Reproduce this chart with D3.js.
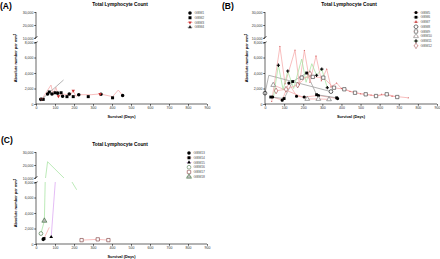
<!DOCTYPE html>
<meta charset="utf-8">
<script src="https://cdn.jsdelivr.net/npm/d3@7"></script>
<style>
body { margin: 0; background: #fff; }
svg { font-family: Arial, "Liberation Sans", sans-serif; }
</style>
<div id="chart"></div>
<script>
// tick values
const xTicks = [0, 100, 200, 300, 400, 500, 600, 700, 800, 900];
const lowTicks = [0, 2000, 4000, 6000, 8000];
const highTicks = [10000, 20000, 30000];

// panel A  [day, count]
const gbm1 = [[25,600],[61,1300],[84,1300],[114,1400],[140,1000],[175,1300],[225,1200],[342,1250],[456,1100]];
const gbm2 = [[38,600],[70,1550],[100,1450],[132,1450],[163,950],[196,950],[275,950],[403,800]];
const gbm3 = [[30,600],[79,2450],[90,1200],[105,2150],[118,1000],[140,1300],[163,1200],[180,1100],[196,1700],[210,1000],[230,1200],[290,1200],[337,1300],[403,950],[433,1800],[456,1100]];
const gbm4 = [[30,600],[145,3100]];

// panel B
const gbm5 = [[40,900],[90,500],[125,2700],[165,1000],[205,900],[280,1100],[380,700]];
const gbm6 = [[30,900],[100,700],[145,2900],[218,4000],[270,1200],[375,800]];
const gbm7 = [[35,300],[78,7400],[105,2600],[157,6950],[180,2500],[206,6900],[235,2800],[267,6200],[295,3000],[323,4500],[345,2200],[375,2700],[400,2000],[420,1900],[445,1600],[471,1500],[500,1300],[527,1250],[555,1150],[581,1000],[610,1250],[637,1200],[665,1000],[692,950],[750,800]];
const gbm8Line = [[0,1400],[20,3700],[345,1600]];
const gbm8 = [[0,1400],[345,1600]];
const gbm9 = [[192,3400],[250,3500],[305,3400],[361,2100],[415,1900],[471,1450],[527,1250],[581,1030],[637,1250],[692,900]];
const gbm10 = [[43,2450],[221,650],[279,650],[335,600]];
const gbm11Line = [[45,1000],[70,5000],[95,1800],[119,4250],[150,2000],[192,5800],[215,2800],[245,5200],[270,3700],[297,4500],[326,2100]];
const gbm11 = [[70,5000],[119,4250],[270,3700],[297,4500],[326,2100]];
const gbm12 = [[58,1700],[110,1900],[171,2450],[235,3900]];

// panel C
const gbm13 = [[38,600]];
const gbm14Line = [[42,700],[70,2150]];
const gbm14 = [[42,700]];
const gbm15 = [[80,900],[106,9500]];
const gbm15Marks = [[80,900]];
const gbm16 = [[26,1350]];
const gbm17 = [[240,500],[325,600],[381,500]];
const gbm18Line = [[26,1350],[44,3000],[61,22500],[150,9600],[214,7000]];
const gbm18 = [[44,3000]];

const pink = "#f6a8a8", green = "#a6e3a0", grey = "#9a9a9a", purple = "#dba6f2";
const tri = d3.symbolTriangle;

const panels = [
  { label: "(A)", lab: [0, 9], title: [120, 6], x0: 36, x1: 207, y0: 104, yb1: 42, yb2: 38, yTop: 12,
    ylab: [17, 58], xlabY: 118, leg: [190, 13],
    series: [
      { name: "GBM1", marks: gbm1, sym: d3.symbolCircle, fill: "#000", size: 10 },
      { name: "GBM2", marks: gbm2, sym: d3.symbolSquare, fill: "#000", size: 9 },
      { name: "GBM3", marks: gbm3.filter((d, i) => i % 4 == 0), line: gbm3, stroke: pink, sym: tri, rot: 180, fill: "#c33", size: 5 },
      { name: "GBM4", marks: gbm4.slice(0, 1), line: gbm4, stroke: grey, sym: tri, fill: "#222", size: 6 }
    ] },
  { label: "(B)", lab: [222, 9], title: [349, 6], x0: 265, x1: 437, y0: 104, yb1: 42, yb2: 38, yTop: 12,
    ylab: [248, 58], xlabY: 118, leg: [416, 12.5],
    series: [
      { name: "GBM5", marks: gbm5, line: gbm5, stroke: pink, sym: d3.symbolCircle, fill: "#000", size: 8 },
      { name: "GBM6", marks: gbm6, line: gbm6, stroke: "#999", sym: d3.symbolSquare, fill: "#000", size: 8 },
      { name: "GBM7", marks: gbm7, line: gbm7, stroke: pink, sym: tri, fill: "#c55", size: 1 },
      { name: "GBM8", marks: gbm8, line: gbm8Line, stroke: grey, sym: d3.symbolCircle, fill: "#fff", size: 11 },
      { name: "GBM9", marks: gbm9, line: gbm9, stroke: pink, sym: d3.symbolSquare, fill: "#fff", size: 11, col: "#333" },
      { name: "GBM10", marks: gbm10, line: gbm10, stroke: pink, sym: tri, fill: "#fff", size: 10, col: "#666" },
      { name: "GBM11", marks: gbm11, line: gbm11Line, stroke: green, sym: d3.symbolCross, fill: "#000", size: 6 },
      { name: "GBM12", marks: gbm12, line: gbm12, stroke: pink, sym: d3.symbolDiamond, fill: "#fff", size: 10, col: "#944" }
    ] },
  { label: "(C)", lab: [1, 143], title: [120, 146], x0: 36, x1: 207, y0: 244, yb1: 182, yb2: 178, yTop: 152,
    ylab: [17, 203], xlabY: 257.5, leg: [189, 153],
    series: [
      { name: "GBM13", marks: gbm13, sym: d3.symbolCircle, fill: "#000", size: 10 },
      { name: "GBM14", marks: gbm14, line: gbm14Line, stroke: pink, sym: d3.symbolSquare, fill: "#000", size: 9 },
      { name: "GBM15", marks: gbm15Marks, line: gbm15, stroke: purple, sym: tri, fill: "#000", size: 6 },
      { name: "GBM16", marks: gbm16, sym: d3.symbolCircle, fill: "#fff", size: 11, col: "#363" },
      { name: "GBM17", marks: gbm17, line: gbm17, stroke: pink, sym: d3.symbolSquare, fill: "#fff", size: 11, col: "#733" },
      { name: "GBM18", marks: gbm18, line: gbm18Line, stroke: green, sym: tri, fill: "#bbb", size: 11, col: "#363" }
    ] }
];

const svg = d3.select("#chart").append("svg").attr("width", 440).attr("height", 259);
const defs = svg.append("defs");

panels.forEach(function (p, pi) {
  const x = d3.scaleLinear().domain([0, 900]).range([p.x0, p.x1]);
  const yLow = d3.scaleLinear().domain([0, 8000]).range([p.y0, p.yb1]);
  const yHigh = d3.scaleLinear().domain([10000, 30000]).range([p.yb2, p.yTop]);
  const g = svg.append("g");

  // clip regions for each axis segment
  defs.append("clipPath").attr("id", "lo" + pi).append("rect")
    .attr("x", p.x0).attr("y", p.yb1).attr("width", p.x1 - p.x0).attr("height", p.y0 - p.yb1);
  defs.append("clipPath").attr("id", "hi" + pi).append("rect")
    .attr("x", p.x0).attr("y", p.yTop).attr("width", p.x1 - p.x0).attr("height", p.yb2 - p.yTop);

  g.append("text").attr("x", p.lab[0]).attr("y", p.lab[1]).attr("font-size", 8.5)
    .attr("font-weight", "bold").text(p.label);
  g.append("text").attr("x", p.title[0]).attr("y", p.title[1]).attr("font-size", 4.8)
    .attr("font-weight", "bold").attr("text-anchor", "middle").text("Total Lymphocyte Count");

  // lines drawn in both segments, clipped
  [["lo", yLow], ["hi", yHigh]].forEach(function (seg) {
    const lg = g.append("g").attr("clip-path", "url(#" + seg[0] + pi + ")");
    const line = d3.line().x(d => x(d[0])).y(d => seg[1](d[1]));
    p.series.filter(s => s.line).forEach(function (s) {
      lg.append("path").attr("d", line(s.line)).attr("fill", "none")
        .attr("stroke", s.stroke).attr("stroke-width", 0.75);
    });
  });

  // markers
  p.series.forEach(function (s) {
    const sym = d3.symbol().type(s.sym).size(s.size);
    const open = s.fill == "#fff" || s.col;
    g.append("g").selectAll("path").data(s.marks).enter().append("path")
      .attr("d", sym)
      .attr("transform", d => "translate(" + x(d[0]) + "," + (d[1] < 9000 ? yLow(d[1]) : yHigh(d[1])) + ")" + (s.rot ? " rotate(" + s.rot + ")" : ""))
      .attr("fill", s.fill).attr("stroke", open ? (s.col || "#000") : "none")
      .attr("stroke-width", 0.6);
  });

  // axes
  const xa = g.append("g").attr("transform", "translate(0," + p.y0 + ")")
    .call(d3.axisBottom(x).tickValues(xTicks).tickSize(1.8).tickPadding(0.8));
  const yl = g.append("g").attr("transform", "translate(" + p.x0 + ",0)")
    .call(d3.axisLeft(yLow).tickValues(lowTicks).tickSize(1.8).tickPadding(0.8));
  const yh = g.append("g").attr("transform", "translate(" + p.x0 + ",0)")
    .call(d3.axisLeft(yHigh).tickValues(highTicks).tickSize(1.8).tickPadding(0.8));
  [xa, yl, yh].forEach(function (a) {
    a.attr("font-size", 3.5).attr("font-family", "Arial, 'Liberation Sans', sans-serif");
    a.selectAll("text").attr("fill", "#333");
    a.selectAll("path, line").attr("stroke-width", 0.6);
    a.select(".domain").attr("d", a === xa ? "M" + p.x0 + ",0H" + p.x1 :
      (a === yl ? "M0," + p.y0 + "V" + p.yb1 : "M0," + p.yb2 + "V" + p.yTop));
  });

  // axis break marks
  [p.yb1 + 0.6, p.yb2 - 0.6].forEach(function (yy) {
    g.append("line").attr("x1", p.x0 - 1.6).attr("x2", p.x0 + 1.6)
      .attr("y1", yy + 0.9).attr("y2", yy - 0.9).attr("stroke", "#000").attr("stroke-width", 0.6);
  });

  g.append("text").attr("x", (p.x0 + p.x1) / 2 + 0).attr("y", p.xlabY).attr("font-size", 3.9)
    .attr("font-weight", "bold").attr("text-anchor", "middle").text("Survival (Days)");
  const yt = g.append("text").attr("transform", "translate(" + p.ylab[0] + "," + p.ylab[1] + ") rotate(-90)")
    .attr("font-size", 3.9).attr("font-weight", "bold").attr("text-anchor", "middle");
  yt.append("tspan").text("Absolute number per mm");
  yt.append("tspan").attr("dy", -1.2).attr("font-size", 2.6).text("3");

  // legend
  p.series.forEach(function (s, i) {
    const yy = p.leg[1] + i * 4.75;
    const sym = d3.symbol().type(s.sym).size(Math.max(s.size, 5));
    const open = s.fill == "#fff" || s.col;
    if (s.line) g.append("line").attr("x1", p.leg[0] - 2.5).attr("x2", p.leg[0] + 2.5)
      .attr("y1", yy).attr("y2", yy).attr("stroke", s.stroke).attr("stroke-width", 0.7);
    g.append("path").attr("d", sym)
      .attr("transform", "translate(" + p.leg[0] + "," + yy + ")" + (s.rot ? " rotate(" + s.rot + ")" : ""))
      .attr("fill", s.fill).attr("stroke", open ? (s.col || "#000") : "none").attr("stroke-width", 0.5);
    g.append("text").attr("x", p.leg[0] + 4.5).attr("y", yy + 1.2).attr("font-size", 3.4)
      .attr("fill", "#555").text(s.name);
  });
});
</script>
